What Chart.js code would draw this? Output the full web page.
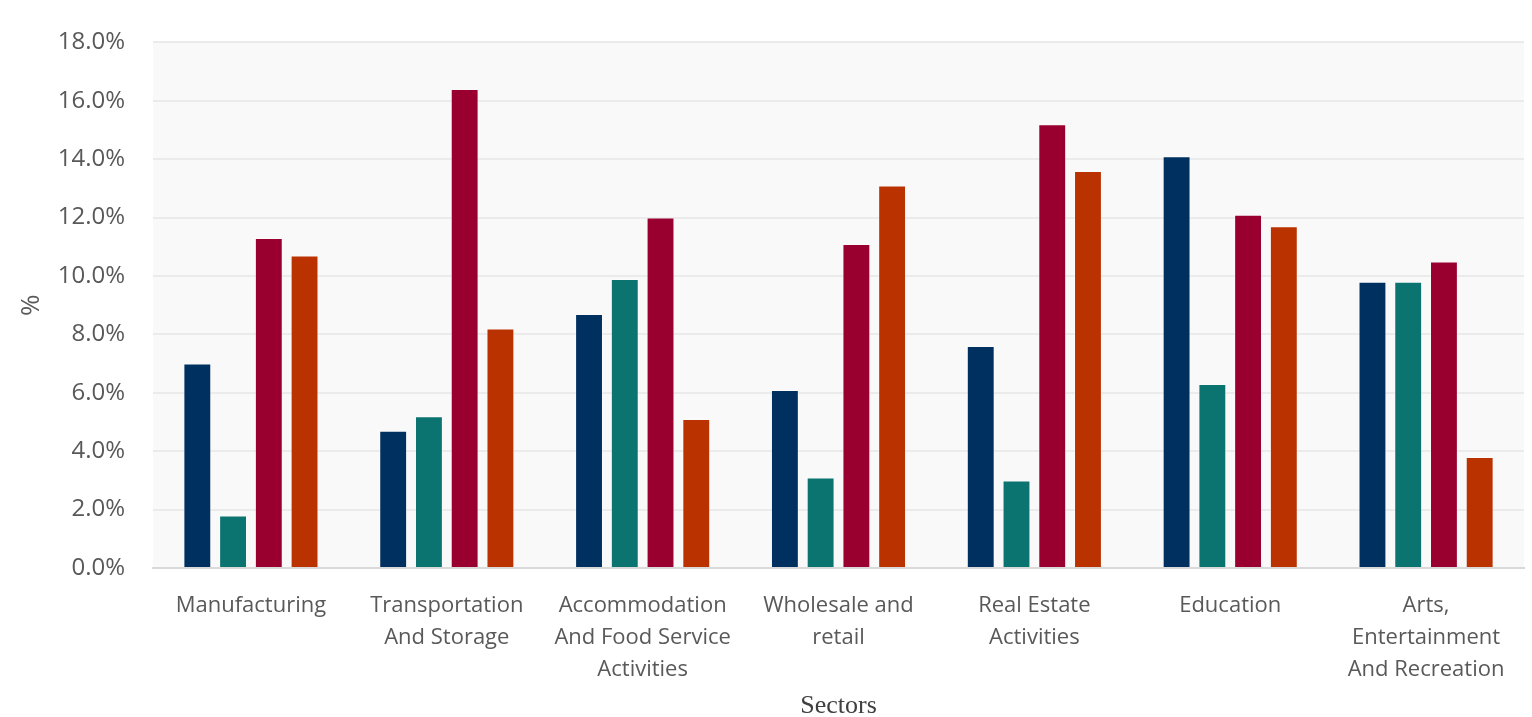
<!DOCTYPE html>
<html>
<head>
<meta charset="utf-8">
<script src="https://cdn.jsdelivr.net/npm/chart.js@4.4.0/dist/chart.umd.min.js"></script>
<style>
html,body{margin:0;padding:0;background:#fff;}
#wrap{width:1532px;height:717px;}
</style>
</head>
<body>
<div id="wrap"><canvas id="c" width="1532" height="717"></canvas></div>
<script>
const categories = [
  ["Manufacturing"],
  ["Transportation", "And Storage"],
  ["Accommodation", "And Food Service", "Activities"],
  ["Wholesale and", "retail"],
  ["Real Estate", "Activities"],
  ["Education"],
  ["Arts,", "Entertainment", "And Recreation"]
];
const series1 = [7.0, 4.7, 8.7, 6.1, 7.6, 14.1, 9.8];
const series2 = [1.8, 5.2, 9.9, 3.1, 3.0, 6.3, 9.8];
const series3 = [11.3, 16.4, 12.0, 11.1, 15.2, 12.1, 10.5];
const series4 = [10.7, 8.2, 5.1, 13.1, 13.6, 11.7, 3.8];
const seriesNames = ["Series 1", "Series 2", "Series 3", "Series 4"];
const colors = ["#00305f", "#0b7370", "#99002f", "#ba3200"];
const yMin = 0, yMax = 18, yStep = 2;

const bgPlugin = {
  id: 'plotBg',
  beforeDraw(chart) {
    const {ctx, chartArea: a} = chart;
    ctx.save();
    ctx.fillStyle = '#f9f9f9';
    ctx.fillRect(a.left, a.top, a.right - a.left, a.bottom - a.top);
    ctx.restore();
  }
};

const data = [series1, series2, series3, series4];
new Chart(document.getElementById('c'), {
  type: 'bar',
  data: {
    labels: categories,
    datasets: data.map((d, i) => ({
      label: seriesNames[i],
      data: d,
      backgroundColor: colors[i],
      borderColor: 'rgba(255,255,255,0.35)',
      borderWidth: 1,
      categoryPercentage: 0.73,
      barPercentage: 0.78
    }))
  },
  options: {
    responsive: false,
    animation: false,
    layout: {autoPadding: false, padding: {top: 21, right: 8, left: 16.4, bottom: 0}},
    plugins: {legend: {display: false}, tooltip: {enabled: false}},
    scales: {
      x: {
        grid: {display: false, drawTicks: false},
        border: {color: '#d9d9d9', width: 2},
        ticks: {
          color: '#595959',
          font: {family: 'Open Sans', size: 22, lineHeight: 1.45},
          padding: 22,
          maxRotation: 0,
          autoSkip: false
        },
        title: {
          display: true, text: 'Sectors', color: '#404040',
          font: {family: 'Liberation Serif', size: 26},
          padding: {top: -17.3, bottom: -4.6}
        }
      },
      y: {
        min: yMin, max: yMax,
        grid: {color: '#ebebeb', lineWidth: 2, drawTicks: false},
        border: {display: false},
        ticks: {
          stepSize: yStep,
          color: '#595959',
          font: {family: 'Open Sans', size: 24},
          padding: 28,
          callback: v => v.toFixed(1) + '%'
        },
        title: {
          display: true, text: '%', color: '#595959',
          font: {family: 'Open Sans', size: 26},
          padding: {top: 0, bottom: -17.9}
        }
      }
    }
  },
  plugins: [bgPlugin]
});
</script>
</body>
</html>
